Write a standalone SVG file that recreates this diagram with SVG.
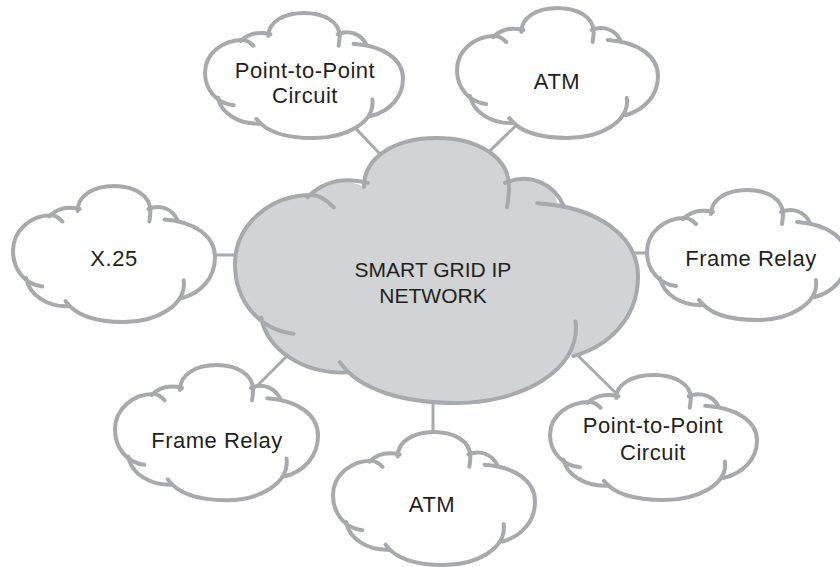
<svg xmlns="http://www.w3.org/2000/svg" xmlns:xlink="http://www.w3.org/1999/xlink" width="840" height="567" viewBox="0 0 840 567">
<style>
  .edge { stroke: #a7a9ac; stroke-width: 3; fill: none; }
  .cl { stroke: #a7a9ac; stroke-width: 4; fill: none; stroke-linecap: round; vector-effect: non-scaling-stroke; }
  .fill { stroke: none; }
  .small { fill: #ffffff; }
  .big { fill: #d1d3d4; }
  .lbl { font-family: "Liberation Sans", Arial, sans-serif; font-size: 22px; letter-spacing: 0.5px; fill: #231f20; text-anchor: middle; }
  .core { font-size: 21px; letter-spacing: 0; }
</style>
<defs>
  <g id="cloud">
    <path class="fill" d="M 38,28 C 44,21 54,19 64,24 C 64,9 80,0 100,0 C 120,0 136,9 136,22 C 146,17 158,22 160,32 C 182,35 200,48 200,68 C 200,88 186,102 168,107 L 165.5,106.4 C 156.9,121 134,130 110,130 C 84,130 62,124 54,114 C 34,116 16,104 13,90 C 4,84 0,74 0,62 C 0,42 18,28 38,28 Z"/>
    <path class="cl" d="M 29,96 C 12,94 0,80 0,62 C 0,42 18,28 38,28 C 42,28 46,31 49,34"/>
    <path class="cl" d="M 36,29 C 44,21 54,19 66,22"/>
    <path class="cl" d="M 64,24 C 64,9 80,0 100,0 C 120,0 136,9 136,24 C 136,28 135.5,31 135,34"/>
    <path class="cl" d="M 134,22 C 146,17 158,22 163,33"/>
    <path class="cl" d="M 150,32 C 180,34 200,48 200,68 C 200,88 186,102 168,107"/>
    <path class="cl" d="M 169,90 C 172,114 142,130 110,130 C 84,130 62,124 52,110"/>
    <path class="cl" d="M 13,88 C 16,104 34,116 56,115"/>
  </g>
</defs>

<g id="connectors">
  <line class="edge" x1="340" y1="112" x2="400" y2="175"/>
  <line class="edge" x1="530" y1="112" x2="470" y2="170"/>
  <line class="edge" x1="200" y1="255" x2="260" y2="255"/>
  <line class="edge" x1="610" y1="253" x2="665" y2="253"/>
  <line class="edge" x1="300" y1="343" x2="240" y2="403"/>
  <line class="edge" x1="433" y1="390" x2="433" y2="450"/>
  <line class="edge" x1="565" y1="343" x2="625" y2="402"/>
</g>

<g id="core">
  <use xlink:href="#cloud" class="big" transform="translate(235,138) scale(2.015,2.038)"/>
  <text class="lbl core" x="433" y="277">SMART GRID IP</text>
  <text class="lbl core" x="433" y="303">NETWORK</text>
</g>

<g id="p2p-top">
  <use xlink:href="#cloud" class="small" transform="translate(205,13) scale(0.99,0.962)"/>
  <text class="lbl" x="305" y="78">Point-to-Point</text>
  <text class="lbl" x="305" y="103">Circuit</text>
</g>

<g id="atm-top">
  <use xlink:href="#cloud" class="small" transform="translate(457,8) scale(1.005,1)"/>
  <text class="lbl" x="557" y="89">ATM</text>
</g>

<g id="x25">
  <use xlink:href="#cloud" class="small" transform="translate(13,186) scale(1.01,1.046)"/>
  <text class="lbl" x="114" y="266">X.25</text>
</g>

<g id="fr-right">
  <use xlink:href="#cloud" class="small" transform="translate(647,190) scale(1.0,1.0)"/>
  <text class="lbl" x="751" y="266">Frame Relay</text>
</g>

<g id="fr-left">
  <use xlink:href="#cloud" class="small" transform="translate(115,365) scale(1.015,1.04)"/>
  <text class="lbl" x="217" y="448">Frame Relay</text>
</g>

<g id="atm-bottom">
  <use xlink:href="#cloud" class="small" transform="translate(333,432) scale(1.01,1.023)"/>
  <text class="lbl" x="432" y="512">ATM</text>
</g>

<g id="p2p-bottom">
  <use xlink:href="#cloud" class="small" transform="translate(550,375) scale(1.035,0.962)"/>
  <text class="lbl" x="653" y="433">Point-to-Point</text>
  <text class="lbl" x="653" y="460">Circuit</text>
</g>
</svg>
